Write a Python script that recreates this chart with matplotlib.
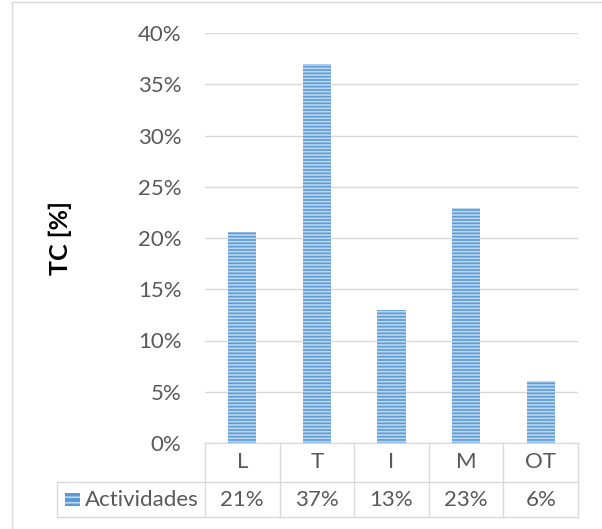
import numpy as np
import matplotlib.pyplot as plt
from matplotlib.patches import Rectangle
import matplotlib.transforms as mtransforms

categories = ['L', 'T', 'I', 'M', 'OT']
values = [20.6, 37.0, 13.0, 22.9, 6.05]
table_labels = ['21%', '37%', '13%', '23%', '6%']
series_name = 'Actividades'

plt.rcParams['font.family'] = ['Lato', 'DejaVu Sans']
plt.rcParams['hatch.linewidth'] = 1.2
txt = '#595959'
grid = '#D9D9D9'
blue = '#5B9BD5'
fs = 16

fig = plt.figure(figsize=(6.02, 5.29), dpi=100)
ax = fig.add_axes([205/602, 1-443/529, 373/602, 410/529])

x = np.arange(len(categories))
ax.bar(x, values, width=0.38, color=blue, edgecolor='#BDD7EE', hatch='-----',
       linewidth=0, zorder=3)

ax.set_xlim(-0.5, len(categories) - 0.5)
ax.set_ylim(0, 40)
ax.set_yticks(np.arange(0, 41, 5))
ax.set_yticklabels([f'{v}%' for v in range(0, 41, 5)], fontsize=fs, color=txt)
ax.tick_params(axis='y', length=0, pad=17)
ax.set_xticks([])
ax.grid(axis='y', color=grid, linewidth=1, zorder=0)
for s in ['top', 'right', 'left']:
    ax.spines[s].set_visible(False)
ax.spines['bottom'].set_color(grid)
ax.set_ylabel('TC [%]', fontsize=18, fontweight='bold', color='black')
ax.yaxis.set_label_coords(-133/373, 0.5)

# data table below the axes
tr = mtransforms.blended_transform_factory(ax.transData, ax.transAxes)
r1 = -39/410
r2 = -74/410
left = -2.48
n = len(categories)
kw = dict(color=grid, linewidth=1, transform=tr, clip_on=False)
ax.plot([left, n - 0.5], [r1, r1], **kw)
ax.plot([left, n - 0.5], [r2, r2], **kw)
for i in range(n + 1):
    ax.plot([i - 0.5, i - 0.5], [0, r2], **kw)
ax.plot([left, left], [r1, r2], **kw)
for i, (c, lab) in enumerate(zip(categories, table_labels)):
    ax.text(i, r1/2, c, ha='center', va='center', fontsize=fs, color=txt,
            transform=tr)
    ax.text(i, (r1 + r2)/2, lab, ha='center', va='center', fontsize=fs,
            color=txt, transform=tr)
ax.add_patch(Rectangle((left + 0.11, (r1 + r2)/2 - 0.017), 0.2, 0.034,
                       facecolor=blue, edgecolor='#BDD7EE', hatch='---',
                       linewidth=0, transform=tr, clip_on=False))
ax.text(left + 0.37, (r1 + r2)/2, series_name, ha='left', va='center',
        fontsize=fs, color=txt, transform=tr)

# chart border
fig.add_artist(Rectangle((12/602, -0.1), 1.2, 1 - 2/529 + 0.1,
                         transform=fig.transFigure, fill=False,
                         edgecolor='#D9D9D9', linewidth=1))

fig.savefig('out.png', dpi=100, facecolor='white')
